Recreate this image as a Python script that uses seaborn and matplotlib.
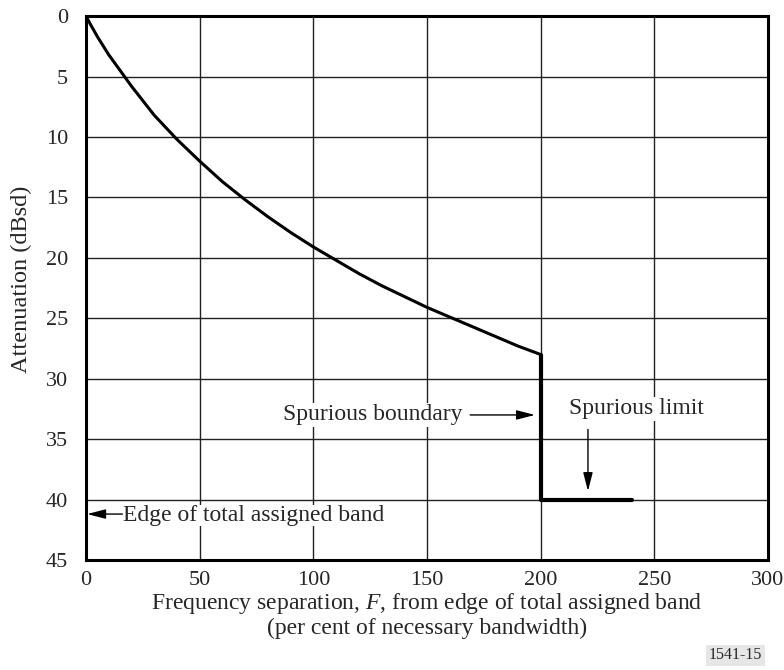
import seaborn as sns
import matplotlib.pyplot as plt
import pandas as pd

# values
freq_sep = [0, 2, 5, 10, 20, 30, 40, 50, 60, 70, 80, 90, 100, 110, 120, 130,
            140, 150, 160, 170, 180, 190, 200]
attenuation = [0, 0.7, 1.7, 3.2, 5.8, 8.2, 10.2, 12.0, 13.7, 15.2, 16.6, 17.9,
               19.1, 20.2, 21.3, 22.3, 23.2, 24.1, 24.9, 25.7, 26.5, 27.3, 28.0]
spur_freq = [200, 200, 240]
spur_att = [28.0, 40, 40]
x_ticks = [0, 50, 100, 150, 200, 250, 300]
y_ticks = [0, 5, 10, 15, 20, 25, 30, 35, 40, 45]

sns.set_style("white")
plt.rcParams["font.family"] = ["Liberation Serif", "DejaVu Serif"]
plt.rcParams["mathtext.fontset"] = "custom"
plt.rcParams["mathtext.rm"] = "Liberation Serif"
plt.rcParams["mathtext.it"] = "Liberation Serif:italic"

oob = pd.DataFrame({"F": freq_sep, "A": attenuation})
spur = pd.DataFrame({"F": spur_freq, "A": spur_att})

fig = plt.figure(figsize=(7.84, 6.70), dpi=100)
ax = fig.add_axes([0.1097, 0.1642, 0.8699, 0.8118])

sns.lineplot(data=oob, x="F", y="A", color="black", lw=2.2, sort=False,
             estimator=None, ax=ax)
sns.lineplot(data=spur, x="F", y="A", color="black", lw=3.0, sort=False,
             estimator=None, ax=ax)

ax.set_xlim(0, 300)
ax.set_ylim(45, 0)
ax.set_xticks(x_ticks)
ax.set_yticks(y_ticks)
ax.grid(True, color="#222222", lw=1.0)
ax.tick_params(length=0, labelsize=16)
ax.tick_params(axis="x", pad=8)
ax.tick_params(axis="y", pad=13)
for sp in ax.spines.values():
    sp.set_linewidth(2.2)
    sp.set_color("black")

ax.set_xlabel("Frequency separation, $\\it{F}$, from edge of total assigned band\n"
              "(per cent of necessary bandwidth)", fontsize=17, labelpad=1,
              linespacing=1.1)
ylab = ax.set_ylabel("Attenuation (dBsd)", fontsize=17.5)
ylab.set_va("center")
ax.yaxis.set_label_coords(-0.094, 0.5165)

box = dict(facecolor="white", edgecolor="none", pad=1)
arr = dict(arrowstyle="-|>,head_length=0.7,head_width=0.18", color="black",
           lw=1.0, mutation_scale=16, shrinkA=0, shrinkB=0)

ax.text(86.5, 33.0, "Spurious boundary", fontsize=17, ha="left", va="center", bbox=box)
ax.annotate("", xy=(197.5, 33.0), xytext=(169, 33.0), arrowprops=arr)

ax.text(212.5, 32.5, "Spurious limit", fontsize=17, ha="left", va="center", bbox=box)
ax.annotate("", xy=(220.8, 39.3), xytext=(220.8, 34.2), arrowprops=arr)

ax.text(16.3, 41.3, "Edge of total assigned band", fontsize=17, ha="left",
        va="center", bbox=dict(facecolor="white", edgecolor="none", pad=0))
ax.annotate("", xy=(0.5, 41.2), xytext=(16, 41.2), arrowprops=arr)

fig.text(0.9719, 0.022, "1541-15", fontsize=11.5, ha="right", va="center",
         bbox=dict(facecolor="#e6e6e6", edgecolor="none", pad=2))

fig.savefig("out.png", dpi=100)
